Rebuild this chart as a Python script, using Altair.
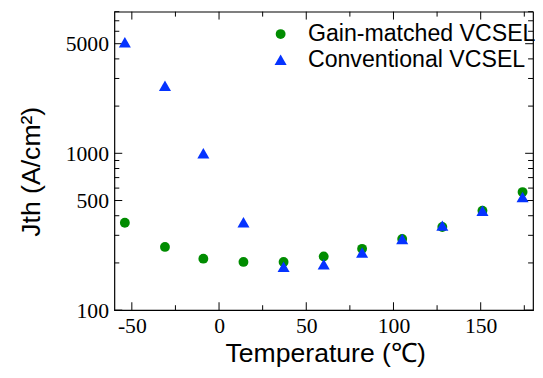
import altair as alt
import pandas as pd

# Data
temps = [-54, -31, -9, 14, 37, 60, 82, 105, 128, 151, 174]
gain_matched = [361, 253, 213, 203, 203, 220, 246, 284, 339, 430, 566]
conventional = [5100, 2700, 1000, 363, 189, 196, 233, 284, 346, 430, 526]
series_names = ["Gain-matched VCSEL", "Conventional VCSEL"]
colors = ["#008c00", "#0533ff"]

x_major = [-50, 0, 50, 100, 150]
x_minor = [-25, 25, 75, 125, 175]
y_major = [100, 500, 1000, 5000]
y_minor = [200, 300, 400, 600, 700, 800, 900, 2000, 3000, 4000, 6000, 7000, 8000]

W, H = 425, 303
SERIF = "Liberation Serif, DejaVu Serif, serif"
SANS = "Liberation Sans, Arial, sans-serif"

rows = []
for t, g in zip(temps, gain_matched):
    rows.append({"T": t, "J": g, "series": series_names[0]})
for t, c in zip(temps, conventional):
    rows.append({"T": t, "J": c, "series": series_names[1]})
df = pd.DataFrame(rows)

xenc = alt.X(
    "T:Q",
    scale=alt.Scale(domain=[-60, 180], nice=False, zero=False),
    axis=alt.Axis(
        values=x_major, format="d", labelExpr="replace(datum.label, '\u2212', '-')",
        ticks=False, tickSize=0, domain=False, grid=False,
        labelFont=SERIF, labelFontSize=22, labelColor="black", labelPadding=6,
        title="Temperature (\u2103)", titleFont=SANS, titleFontSize=27,
        titleFontWeight="normal", titleColor="black",
        titleX=214, titleY=52, titleBaseline="alphabetic", titleAlign="center",
    ),
)
yenc = alt.Y(
    "J:Q",
    scale=alt.Scale(type="log", domain=[100, 8000], nice=False),
    axis=alt.Axis(
        values=y_major, format="d",
        ticks=False, tickSize=0, domain=False, grid=False,
        labelFont=SERIF, labelFontSize=22, labelColor="black", labelPadding=6,
        title="Jth (A/cm\u00b2)", titleFont=SANS, titleFontSize=27,
        titleFontWeight="normal", titleColor="black",
        titleX=-84, titleY=162, titleBaseline="middle", titleAlign="center", titleAngle=270,
    ),
)

points = alt.Chart(df).mark_point(filled=True, opacity=1, strokeWidth=0).encode(
    x=xenc,
    y=yenc,
    color=alt.Color(
        "series:N",
        scale=alt.Scale(domain=series_names, range=colors),
        legend=alt.Legend(
            title=None, orient="none", legendX=157, legendY=11,
            labelFont=SANS, labelFontSize=23.5, labelColor="black", labelLimit=400,
            symbolSize=85, labelOffset=16, rowPadding=1, symbolStrokeWidth=0,
        ),
    ),
    shape=alt.Shape(
        "series:N",
        scale=alt.Scale(domain=series_names, range=["circle", "triangle-up"]),
    ),
    size=alt.Size(
        "series:N",
        scale=alt.Scale(domain=series_names, range=[100, 150]),
        legend=None,
    ),
    order=alt.Order("series:N", sort="descending"),
)

xmaj = pd.DataFrame({"T": x_major})
xmin = pd.DataFrame({"T": x_minor})
ymaj = pd.DataFrame({"J": y_major})
ymin = pd.DataFrame({"J": y_minor})

def xticks(d, length):
    bottom = alt.Chart(d).mark_rule(color="black", strokeWidth=1).encode(
        x=xenc, y=alt.value(H), y2=alt.value(H - length))
    top = alt.Chart(d).mark_rule(color="black", strokeWidth=1).encode(
        x=xenc, y=alt.value(0), y2=alt.value(length))
    return [bottom, top]

def yticks(d, length):
    left = alt.Chart(d).mark_rule(color="black", strokeWidth=1).encode(
        y=yenc, x=alt.value(0), x2=alt.value(length))
    right = alt.Chart(d).mark_rule(color="black", strokeWidth=1).encode(
        y=yenc, x=alt.value(W), x2=alt.value(W - length))
    return [left, right]

layers = xticks(xmaj, 8) + xticks(xmin, 5) + yticks(ymaj, 8) + yticks(ymin, 5) + [points]

chart = alt.layer(*layers).properties(
    width=W, height=H,
    autosize=alt.AutoSizeParams(type="none"),
    padding={"left": 108, "top": 1, "right": 2, "bottom": 56},
    background="white",
).configure_view(
    stroke="black", strokeWidth=1.2
).configure_axis(
    labelFont=SERIF
)

chart.save("out.html", embed_options={"renderer": "svg", "actions": False})
